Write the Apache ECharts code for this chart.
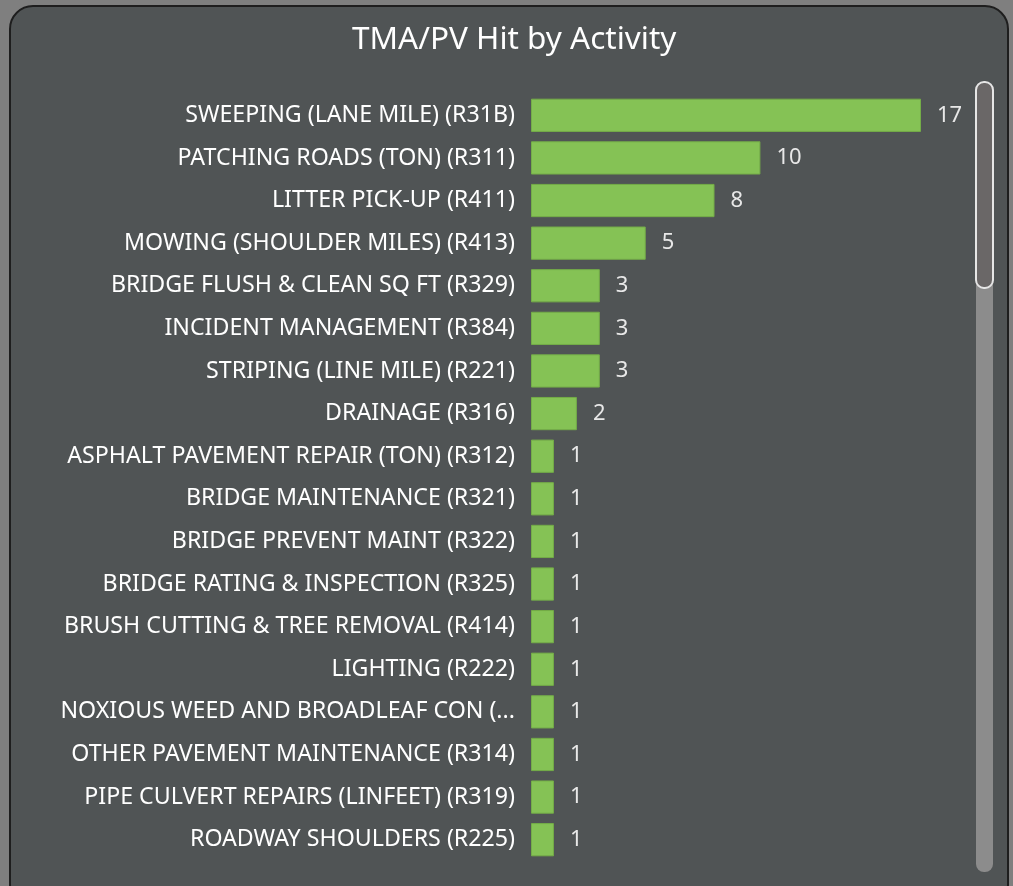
<!DOCTYPE html>
<html>
<head>
<meta charset="utf-8">
<script src="https://cdn.jsdelivr.net/npm/echarts@6/dist/echarts.min.js"></script>
<style>
  html, body { margin: 0; padding: 0; background: #7f7f7f; overflow: hidden; }
  #panel {
    position: absolute; left: 9px; top: 5px; width: 996px; height: 900px;
    background: #505455; border: 2px solid #1e1e1e; border-radius: 24px;
  }
  #chart { position: absolute; left: 0; top: 0; width: 1013px; height: 886px; }
</style>
</head>
<body>
<div id="panel"></div>
<div id="chart"></div>
<script>
const categories = [
  'SWEEPING (LANE MILE) (R31B)',
  'PATCHING ROADS (TON) (R311)',
  'LITTER PICK-UP (R411)',
  'MOWING (SHOULDER MILES) (R413)',
  'BRIDGE FLUSH & CLEAN SQ FT (R329)',
  'INCIDENT MANAGEMENT (R384)',
  'STRIPING (LINE MILE) (R221)',
  'DRAINAGE (R316)',
  'ASPHALT PAVEMENT REPAIR (TON) (R312)',
  'BRIDGE MAINTENANCE (R321)',
  'BRIDGE PREVENT MAINT (R322)',
  'BRIDGE RATING & INSPECTION (R325)',
  'BRUSH CUTTING & TREE REMOVAL (R414)',
  'LIGHTING (R222)',
  'NOXIOUS WEED AND BROADLEAF CON (...',
  'OTHER PAVEMENT MAINTENANCE (R314)',
  'PIPE CULVERT REPAIRS (LINFEET) (R319)',
  'ROADWAY SHOULDERS (R225)'
];
const hits = [17, 10, 8, 5, 3, 3, 3, 2, 1, 1, 1, 1, 1, 1, 1, 1, 1, 1];

const chart = echarts.init(document.getElementById('chart'), null, {renderer: 'canvas'});
const font = 'Noto Sans';

chart.setOption({
  backgroundColor: 'transparent',
  animation: false,
  title: {
    text: 'TMA/PV Hit by Activity',
    left: 347,
    top: 19,
    textStyle: { color: '#ffffff', fontFamily: font, fontSize: 31.5, fontWeight: 'normal' }
  },
  grid: { left: 531, right: 92, top: 94, bottom: 25 },
  xAxis: {
    type: 'value', min: 0, max: 17,
    show: false
  },
  yAxis: {
    type: 'category',
    inverse: true,
    data: categories,
    axisLine: { show: false },
    axisTick: { show: false },
    axisLabel: { color: '#ffffff', fontFamily: font, fontSize: 23.2, margin: 16 }
  },
  series: [{
    type: 'bar',
    data: hits,
    barCategoryGap: '22%',
    itemStyle: { color: '#85c255', borderColor: '#74ad48', borderWidth: 1 },
    label: {
      show: true, position: 'right', distance: 16,
      color: '#e8e8e8', fontFamily: font, fontSize: 22
    }
  }],
  graphic: [
    { type: 'rect', shape: { x: 976, y: 82, width: 17, height: 790, r: 8 },
      style: { fill: '#8c8c8c' } },
    { type: 'rect', shape: { x: 976, y: 82, width: 17, height: 206, r: 8 },
      style: { fill: '#6a6767', stroke: '#e6e6e6', lineWidth: 2 } }
  ]
});
</script>
</body>
</html>
